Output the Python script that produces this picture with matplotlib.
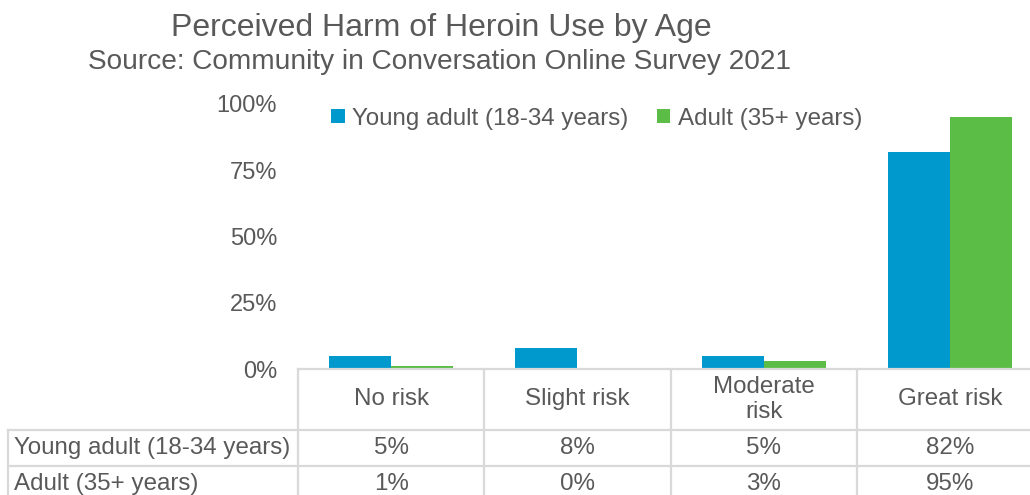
import matplotlib.pyplot as plt
import numpy as np

plt.rcParams['font.family'] = ['Liberation Sans', 'DejaVu Sans']

# survey results, percent of respondents
categories = ['No risk', 'Slight risk', 'Moderate\nrisk', 'Great risk']
series = ['Young adult (18-34 years)', 'Adult (35+ years)']
young = [5, 8, 5, 82]
adult = [1, 0, 3, 95]
yticks = [0, 25, 50, 75, 100]

grey = '#595959'
line_grey = '#D9D9D9'
colors = ['#0099CE', '#5BBD46']
fs = 17.4

fig = plt.figure(figsize=(10.3, 4.95), dpi=100)
W, H = 1030, 495

# plot area, in pixels: left 298, right 1043 (runs past the edge), zero line at 369, 100% at 104
ax = fig.add_axes([298 / W, (H - 369) / H, 745 / W, 265 / H])

x = np.arange(len(categories))
w = 1 / 3
ax.bar(x - w / 2, young, w, color=colors[0], label=series[0])
ax.bar(x + w / 2, adult, w, color=colors[1], label=series[1])

ax.set_xlim(-0.5, 3.5)
ax.set_ylim(0, 100)
ax.set_yticks(yticks)
ax.set_yticklabels([f'{t}%' for t in yticks])
ax.tick_params(axis='y', length=0, pad=15, labelsize=17, labelcolor=grey)
ax.set_xticks([])
for s in ['top', 'right', 'left']:
    ax.spines[s].set_visible(False)
ax.spines['bottom'].set_color(line_grey)
ax.spines['bottom'].set_linewidth(1.6)

ax.legend(loc='center', bbox_to_anchor=(0.401, 0.945), ncol=2, frameon=False,
          fontsize=fs, labelcolor=grey, handlelength=0.55, handleheight=0.55,
          handletextpad=0.3, columnspacing=1.2)

# data table under the bars
tr = ax.get_xaxis_transform()
row_edges = [0, -0.230, -0.366, -0.502]
label_left = -0.5 - 290 * 4 / 745
kw = dict(color=line_grey, lw=1.6, transform=tr, clip_on=False)
for y in row_edges[1:]:
    ax.plot([label_left, 3.5], [y, y], **kw)
for xe in np.arange(-0.5, 4.0, 1.0):
    ax.plot([xe, xe], [0, row_edges[-1]], **kw)
ax.plot([label_left, label_left], [row_edges[1], row_edges[-1]], **kw)

header_y = (row_edges[0] + row_edges[1]) / 2
for i, c in enumerate(categories):
    ax.text(i, header_y, c, transform=tr, ha='center', va='center', fontsize=fs,
            color=grey, linespacing=1.15)

for r, (name, vals) in enumerate(zip(series, [young, adult])):
    ymid = (row_edges[r + 1] + row_edges[r + 2]) / 2
    ax.text(label_left + 6 * 4 / 745, ymid, name, transform=tr, ha='left', va='center',
            fontsize=fs, color=grey)
    for i, v in enumerate(vals):
        ax.text(i, ymid, f'{v}%', transform=tr, ha='center', va='center',
                fontsize=fs, color=grey)

fig.text(441 / W, 1 - 28 / H, 'Perceived Harm of Heroin Use by Age', ha='center',
         va='center', fontsize=23, color=grey)
fig.text(440 / W, 1 - 62 / H, 'Source: Community in Conversation Online Survey 2021',
         ha='center', va='center', fontsize=20.2, color=grey)

fig.savefig('out.png', dpi=100)
